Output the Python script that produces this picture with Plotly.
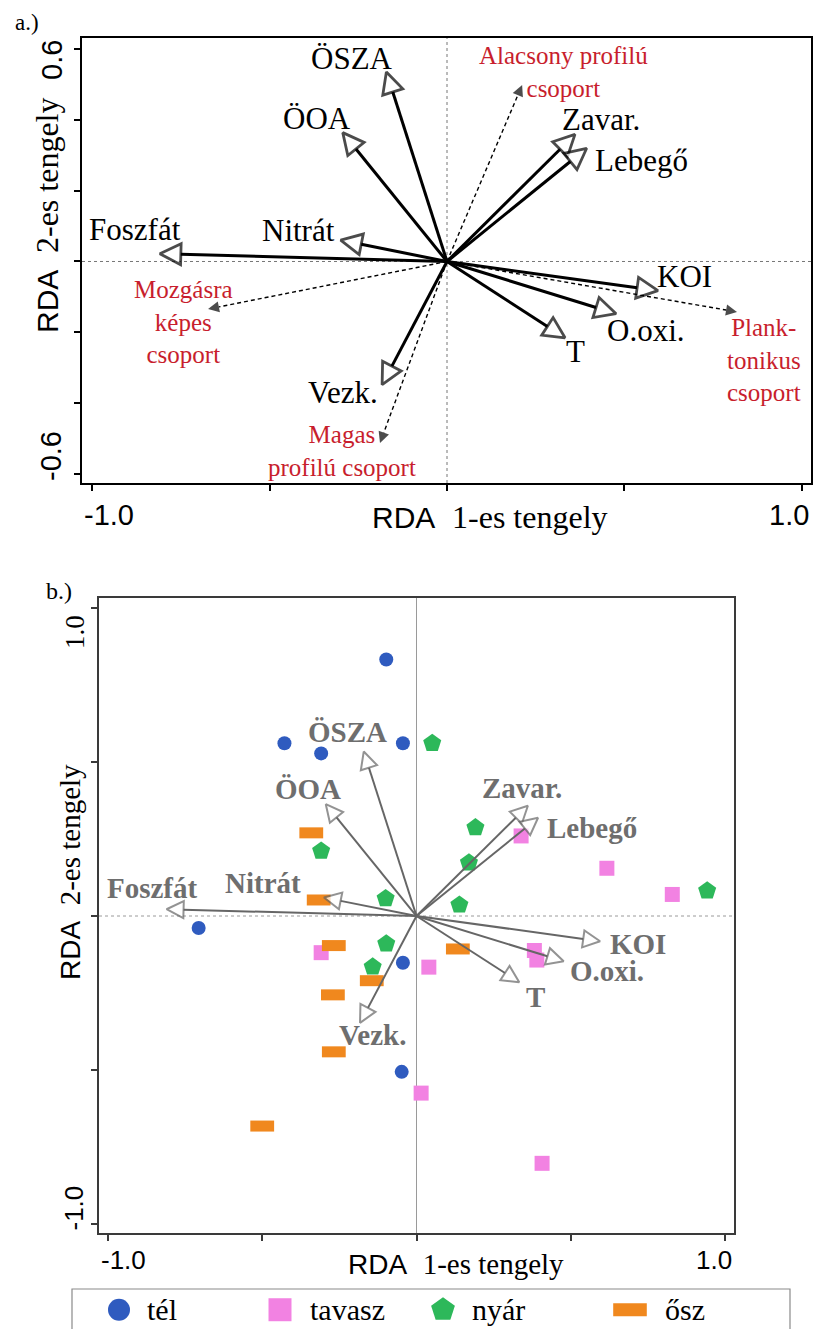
import plotly.graph_objects as go

# ---------------------------------------------------------------
# Data
# ---------------------------------------------------------------
# Environmental variables: biplot scores on RDA axis 1 and axis 2
env_names = ["ÖSZA", "ÖOA", "Nitrát", "Foszfát", "Zavar.", "Lebegő",
             "KOI", "O.oxi.", "T", "Vezk."]
env_ax1 = [-0.171, -0.294, -0.300, -0.810, 0.361, 0.394,
           0.595, 0.477, 0.333, -0.183]
env_ax2 = [0.534, 0.363, 0.060, 0.022, 0.358, 0.319,
           -0.082, -0.147, -0.215, -0.347]

# Functional groups (response variables, panel a)
group_names = ["Alacsony profilú<br>csoport", "Mozgásra<br>képes<br>csoport",
               "Magas<br>profilú csoport", "Plank-<br>tonikus<br>csoport"]
group_ax1 = [0.212, -0.674, -0.189, 0.818]
group_ax2 = [0.497, -0.134, -0.511, -0.142]

# Sample scores by season (panel b)
seasons = ["tél", "tavasz", "nyár", "ősz"]
tel_ax1 = [-0.098, -0.428, -0.309, -0.044, -0.706, -0.044, -0.048]
tel_ax2 = [0.833, 0.561, 0.528, 0.561, -0.039, -0.152, -0.506]
tavasz_ax1 = [-0.309, 0.040, 0.015, 0.339, 0.617, 0.829, 0.382, 0.390, 0.407]
tavasz_ax2 = [-0.119, -0.166, -0.575, 0.260, 0.155, 0.070, -0.112, -0.143, -0.803]
nyar_ax1 = [0.051, -0.309, -0.100, -0.098, -0.142, 0.191, 0.170, 0.942, 0.139]
nyar_ax2 = [0.561, 0.211, 0.057, -0.090, -0.165, 0.287, 0.173, 0.082, 0.036]
osz_ax1 = [-0.341, -0.317, -0.268, -0.145, -0.271, -0.268, -0.500, 0.134]
osz_ax2 = [0.270, 0.052, -0.096, -0.210, -0.256, -0.441, -0.682, -0.107]

# Axis tick values and tick labels
a_xticks = [-1.0, -0.5, 0.0, 0.5, 1.0]
a_yticks = [-0.6, -0.4, -0.2, 0.0, 0.2, 0.4, 0.6]
b_ticks = [-1.0, -0.5, 0.0, 0.5, 1.0]
a_xlabels = ["-1.0", "1.0"]
a_ylabels = ["-0.6", "0.6"]
b_labels = ["-1.0", "1.0"]

# ---------------------------------------------------------------
# Styling / layout helpers
# ---------------------------------------------------------------
W, H = 814, 1329
SERIF = "Liberation Serif, Times New Roman, serif"
SANS = "Liberation Sans, Arial, sans-serif"
RED = "#c81e2d"
GREY = "#666666"
BLUE, PINK, GREEN, ORANGE = "#2f5bbf", "#f282e2", "#2db85a", "#f0881e"


def px_x(p):
    return p / W


def px_y(p):
    return 1 - p / H


def serif(text, size=None):
    """Wrap every line of a label in a serif span."""
    style = "font-family:Liberation Serif"
    if size:
        style += ";font-size:%dpx" % size
    return "<br>".join('<span style="%s">%s</span>' % (style, part)
                       for part in text.split("<br>"))


# label offsets (pixels, right / up) from each arrow tip
a_label_shift = {
    "ÖSZA": (-34, 13), "ÖOA": (-26, 14), "Nitrát": (-42, 10),
    "Foszfát": (-25, 24), "Zavar.": (26, 15), "Lebegő": (55, -12),
    "KOI": (27, 14), "O.oxi.": (30, -17), "T": (10, -14), "Vezk.": (-39, -8),
}
b_label_shift = {
    "ÖSZA": (-16, 20), "ÖOA": (-18, 15), "Nitrát": (-61, 15),
    "Foszfát": (-14, 21), "Zavar.": (-6, 18), "Lebegő": (54, -10),
    "KOI": (38, -3), "O.oxi.": (43, -10), "T": (16, -15), "Vezk.": (12, -12),
}
group_label_shift = [(41, 13), (-25, -13), (-38, -8), (27, -48)]

fig = go.Figure()
annotations = []
shapes = []


def note(**kw):
    kw.setdefault("showarrow", False)
    kw.setdefault("xanchor", "center")
    kw.setdefault("yanchor", "middle")
    annotations.append(kw)


def add_arrow(x, y, xa, ya, color, width, head, head_fill, head_line, head_lw, dash=None):
    fig.add_trace(go.Scatter(
        x=[0, x], y=[0, y], xaxis=xa, yaxis=ya,
        mode="lines+markers", showlegend=False, hoverinfo="skip",
        line=dict(color=color, width=width, dash=dash),
        marker=dict(symbol="arrow-up", angleref="previous", size=[0, head],
                    color=head_fill, line=dict(color=head_line, width=head_lw)),
    ))


# ---------------- panel a ----------------
for gx, gy in zip(group_ax1, group_ax2):
    add_arrow(gx, gy, "x", "y", "black", 1.4, 11, "black", "black", 0, dash="4px,3px")
for ex, ey in zip(env_ax1, env_ax2):
    add_arrow(ex, ey, "x", "y", "black", 3, 21, "white", "black", 2.8)

for name, ex, ey in zip(env_names, env_ax1, env_ax2):
    dx, dy = a_label_shift[name]
    note(x=ex, y=ey, xref="x", yref="y", text=serif(name), xshift=dx, yshift=dy,
         font=dict(family=SERIF, size=31, color="black"))
for name, gx, gy, (dx, dy) in zip(group_names, group_ax1, group_ax2, group_label_shift):
    note(x=gx, y=gy, xref="x", yref="y", text=serif(name), xshift=dx, yshift=dy,
         font=dict(family=SERIF, size=25, color=RED))

# ---------------- panel b ----------------
season_style = [
    dict(symbol="circle", size=14, color=BLUE),
    dict(symbol="square", size=15, color=PINK),
    dict(symbol="pentagon", size=19, color=GREEN),
    dict(symbol="line-ew", size=17, color=ORANGE, line=dict(color=ORANGE, width=11)),
]
season_x = [tel_ax1, tavasz_ax1, nyar_ax1, osz_ax1]
season_y = [tel_ax2, tavasz_ax2, nyar_ax2, osz_ax2]
for name, sx, sy, st in zip(seasons, season_x, season_y, season_style):
    fig.add_trace(go.Scatter(x=sx, y=sy, xaxis="x2", yaxis="y2", mode="markers",
                             name=name, showlegend=False, marker=st))

for ex, ey in zip(env_ax1, env_ax2):
    add_arrow(ex, ey, "x2", "y2", GREY, 2, 17, "white", GREY, 2)

for name, ex, ey in zip(env_names, env_ax1, env_ax2):
    dx, dy = b_label_shift[name]
    note(x=ex, y=ey, xref="x2", yref="y2", text="<b>%s</b>" % serif(name),
         xshift=dx, yshift=dy, font=dict(family=SERIF, size=29, color="#6e6e6e"))

# ---------------- legend row ----------------
legend_style = [
    dict(symbol="circle", size=22, color=BLUE),
    dict(symbol="square", size=23, color=PINK),
    dict(symbol="pentagon", size=25, color=GREEN),
    dict(symbol="line-ew", size=24, color=ORANGE, line=dict(color=ORANGE, width=13)),
]
legend_mark_x = [119, 280, 443, 630]
legend_text_x = [145, 308, 470, 663]
for name, mx, tx, st in zip(seasons, legend_mark_x, legend_text_x, legend_style):
    fig.add_trace(go.Scatter(x=[mx], y=[0.47], xaxis="x3", yaxis="y3", mode="markers",
                             showlegend=False, hoverinfo="skip", marker=st))
    note(x=tx, y=0.47, xref="x3", yref="y3", text=serif(name), xanchor="left",
         font=dict(family=SERIF, size=30, color="black"))
shapes.append(dict(type="rect", xref="paper", yref="paper",
                   x0=px_x(72), x1=px_x(790), y0=px_y(1345), y1=px_y(1289),
                   line=dict(color="#8a8a8a", width=1.2), fillcolor="rgba(0,0,0,0)"))

# ---------------- zero reference lines ----------------
for xr, yr, col, dash_v, dash_h in [("x", "y", "#777777", "dot", "dot"),
                                    ("x2", "y2", "#9a9a9a", "solid", "dot")]:
    shapes.append(dict(type="line", xref=xr, yref=yr + " domain", x0=0, x1=0, y0=0, y1=1,
                       line=dict(color=col, width=1, dash=dash_v), layer="below"))
    shapes.append(dict(type="line", xref=xr + " domain", yref=yr, x0=0, x1=1, y0=0, y1=0,
                       line=dict(color=col, width=1, dash=dash_h), layer="below"))

# ---------------- tick labels & titles ----------------
tick_font_a = dict(family=SANS, size=29, color="black")
tick_font_b = dict(family=SANS, size=26, color="black")
# panel a, x
note(x=0, xref="x domain", y=px_y(515), yref="paper", text=a_xlabels[0],
     xanchor="left", font=tick_font_a)
note(x=1, xref="x domain", y=px_y(515), yref="paper", text=a_xlabels[1],
     xanchor="right", font=tick_font_a)
# panel a, y (rotated)
note(x=px_x(51), xref="paper", y=0, yref="y domain", text=a_ylabels[0],
     yanchor="bottom", textangle=-90, font=tick_font_a)
note(x=px_x(52), xref="paper", y=1, yref="y domain", text=a_ylabels[1],
     yanchor="top", textangle=-90, font=tick_font_a)
# panel b, x
note(x=0, xref="x2 domain", y=px_y(1260), yref="paper", text=b_labels[0],
     xanchor="left", font=tick_font_b)
note(x=1, xref="x2 domain", y=px_y(1260), yref="paper", text=b_labels[1],
     xanchor="right", font=tick_font_b)
# panel b, y (rotated)
note(x=px_x(73), xref="paper", y=0, yref="y2 domain", text=b_labels[0],
     yanchor="bottom", textangle=-90, font=tick_font_b)
note(x=px_x(75), xref="paper", y=1.0, yref="y2", yshift=-5, text=serif(b_labels[1]),
     yanchor="top", textangle=-90, font=dict(family=SERIF, size=27, color="black"))

title_a_x = "RDA\u00a0 " + serif("1-es tengely", 32)
title_a_y = "RDA\u00a0 " + serif("2-es tengely", 32)
title_b_x = "RDA\u00a0 " + serif("1-es tengely", 29)
title_b_y = "RDA\u00a0 " + serif("2-es tengely", 29)
note(x=px_x(490), y=px_y(517), xref="paper", yref="paper", text=title_a_x,
     font=dict(family=SANS, size=30, color="black"))
note(x=px_x(47), y=px_y(215), xref="paper", yref="paper", text=title_a_y,
     textangle=-90, font=dict(family=SANS, size=30, color="black"))
note(x=px_x(456), y=px_y(1264), xref="paper", yref="paper", text=title_b_x,
     font=dict(family=SANS, size=28, color="black"))
note(x=px_x(70), y=px_y(872), xref="paper", yref="paper", text=title_b_y,
     textangle=-90, font=dict(family=SANS, size=28, color="black"))
note(x=px_x(27), y=px_y(23), xref="paper", yref="paper", text=serif("a.)"),
     font=dict(family=SERIF, size=23, color="black"))
note(x=px_x(59), y=px_y(591), xref="paper", yref="paper", text=serif("b.)"),
     font=dict(family=SERIF, size=24, color="black"))

axis_common = dict(showgrid=False, zeroline=False, showticklabels=False,
                   ticks="outside", ticklen=6, tickwidth=1.5,
                   showline=True, mirror=True)

fig.update_layout(
    width=W, height=H,
    margin=dict(l=0, r=0, t=0, b=0),
    paper_bgcolor="white", plot_bgcolor="white",
    showlegend=False,
    xaxis=dict(domain=[px_x(82), px_x(811)], range=[-1.0296, 1.0268], anchor="y",
               tickvals=a_xticks, linecolor="black", linewidth=1.8, tickcolor="black",
               **axis_common),
    yaxis=dict(domain=[px_y(483), px_y(38)], range=[-0.624, 0.6296], anchor="x",
               tickvals=a_yticks, linecolor="black", linewidth=1.8, tickcolor="black",
               **axis_common),
    xaxis2=dict(domain=[px_x(99), px_x(734)], range=[-1.029, 1.029], anchor="y2",
                tickvals=b_ticks, linecolor="#3a3a3a", linewidth=1.8, tickcolor="#3a3a3a",
                **axis_common),
    yaxis2=dict(domain=[px_y(1233), px_y(598)], range=[-1.0292, 1.0325], anchor="x2",
                tickvals=b_ticks, linecolor="#3a3a3a", linewidth=1.8, tickcolor="#3a3a3a",
                **axis_common),
    xaxis3=dict(domain=[0, 1], range=[0, W], anchor="y3", visible=False),
    yaxis3=dict(domain=[0, px_y(1288)], range=[0, 1], anchor="x3", visible=False),
    annotations=annotations,
    shapes=shapes,
)

fig.write_html("out.html")
